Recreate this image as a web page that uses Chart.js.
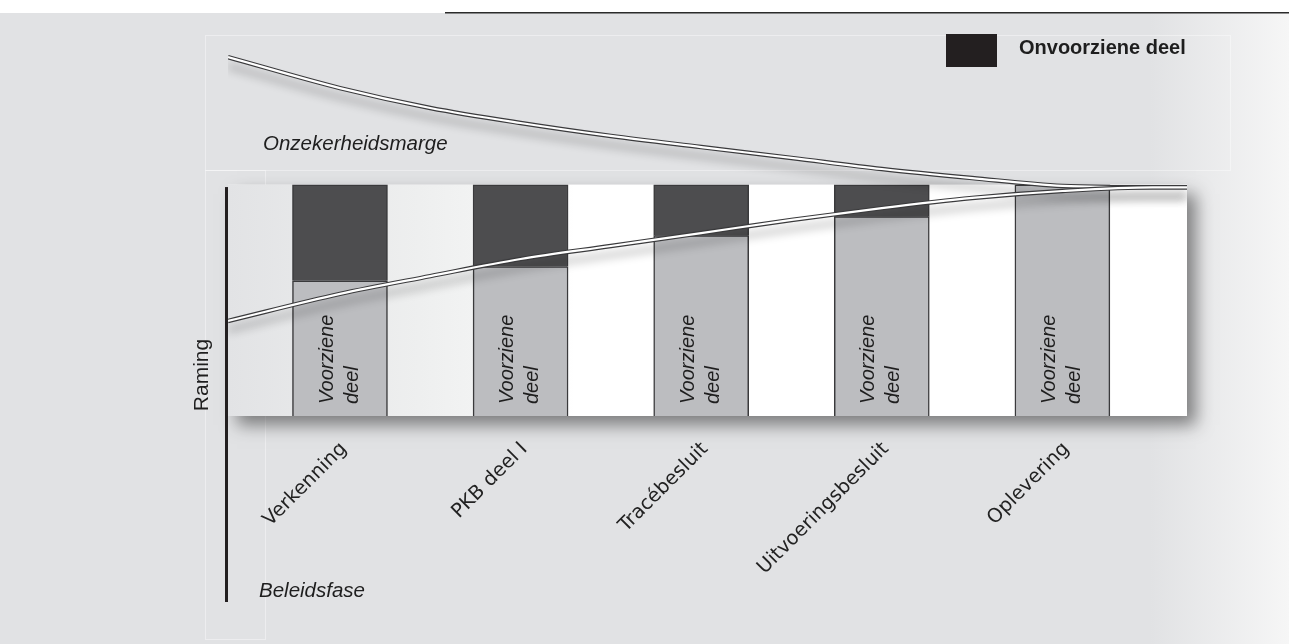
<!DOCTYPE html>
<html>
<head>
<meta charset="utf-8">
<script src="https://cdn.jsdelivr.net/npm/chart.js@4.4.1/dist/chart.umd.min.js"></script>
<style>
  html, body { margin: 0; padding: 0; background: #fff; }
  canvas { display: block; }
</style>
</head>
<body>
<canvas id="chart" width="1289" height="644"></canvas>
<script>
// Raming per beleidsfase: voorziene + onvoorziene deel, met onzekerheidsmarge
const categories = ['Verkenning', 'PKB deel I', 'Tracébesluit', 'Uitvoeringsbesluit', 'Oplevering'];
const voorzien   = [58.5, 64.6, 78.0, 86.2, 100];
const onvoorzien = [41.5, 35.4, 22.0, 13.8, 0];

// onzekerheidsmarge (boven- en ondergrens), x in fase-eenheden
const curveX      = [-0.62, 0, 0.5, 1, 1.5, 2, 2.5, 3, 3.5, 4, 4.5, 4.69];
const upperMargin = [155.2, 141.8, 133.2, 126.7, 121.1, 116.3, 111.6, 106.8, 102.9, 99.5, 98.9, 98.9];
const lowerMargin = [41.1, 52.8, 60.5, 67.9, 73.5, 79.1, 84.8, 89.9, 94.3, 97.3, 98.9, 98.9];

const FONT = "'Liberation Sans', Arial, sans-serif";
const WIDE = "'DejaVu Sans', Verdana, sans-serif";

function pts(ys) { return curveX.map((x, i) => ({ x: x, y: ys[i] })); }

const backdrop = {
  id: 'backdrop',
  beforeDraw(chart) {
    const { ctx, chartArea: a, scales: { x, y } } = chart;
    const W = chart.width, H = chart.height;
    ctx.save();
    // grey panel fading out to the right
    let g = ctx.createLinearGradient(1150, 0, W, 0);
    g.addColorStop(0, '#e1e2e4');
    g.addColorStop(1, '#f6f6f6');
    ctx.fillStyle = g;
    ctx.fillRect(0, 13, W, H - 13);
    ctx.fillStyle = '#2b2b2b';
    ctx.fillRect(445, 12, W - 445, 1.5);
    // faint frames
    ctx.strokeStyle = 'rgba(255,255,255,0.4)';
    ctx.lineWidth = 1;
    ctx.strokeRect(205.5, 35.5, 1025, 135);
    ctx.strokeRect(205.5, 170.5, 60, 469);
    // white band with drop shadow
    const top = y.getPixelForValue(100), bot = y.getPixelForValue(0);
    ctx.shadowColor = 'rgba(0,0,0,0.45)';
    ctx.shadowBlur = 16;
    ctx.shadowOffsetX = 9;
    ctx.shadowOffsetY = 9;
    ctx.fillStyle = '#ffffff';
    ctx.fillRect(a.left, top, a.right - a.left, bot - top);
    ctx.shadowColor = 'transparent';
    g = ctx.createLinearGradient(a.left, 0, x.getPixelForValue(1.3), 0);
    g.addColorStop(0, '#e2e3e5');
    g.addColorStop(0.55, '#eeefef');
    g.addColorStop(0.8, '#f4f5f5');
    g.addColorStop(1, '#ffffff');
    ctx.fillStyle = g;
    ctx.fillRect(a.left, top, a.right - a.left, bot - top);
    ctx.restore();
  },
  beforeDatasetDraw(chart, args) {
    const ds = chart.data.datasets[args.index];
    if (ds.shadow) {
      const ctx = chart.ctx;
      ctx.save();
      ctx.shadowColor = 'rgba(0,0,0,0.28)';
      ctx.shadowBlur = 10;
      ctx.shadowOffsetY = 9;
    }
  },
  afterDatasetDraw(chart, args) {
    if (chart.data.datasets[args.index].shadow) chart.ctx.restore();
  },
  afterDraw(chart) {
    const { ctx, chartArea: a, scales: { x, y } } = chart;
    const y0 = y.getPixelForValue(0);
    ctx.save();
    // vertical axis line
    ctx.fillStyle = '#231f20';
    ctx.fillRect(a.left - 3, y.getPixelForValue(99), 3, 602 - y.getPixelForValue(99));
    ctx.fillStyle = '#1e1e1e';
    ctx.textBaseline = 'middle';
    // axis titles
    ctx.save();
    ctx.translate(202, 375);
    ctx.rotate(-Math.PI / 2);
    ctx.textAlign = 'center';
    ctx.font = '21px ' + FONT;
    ctx.fillText('Raming', 0, 0);
    ctx.restore();
    ctx.textAlign = 'left';
    ctx.font = 'italic 20.5px ' + FONT;
    ctx.fillText('Onzekerheidsmarge', 263, 144);
    ctx.fillText('Beleidsfase', 259, 591);
    // legend
    const ds = chart.data.datasets[1];
    ctx.fillStyle = '#231f20';
    ctx.fillRect(946, 34, 51, 33);
    ctx.fillStyle = '#1e1e1e';
    ctx.font = 'bold 20px ' + FONT;
    ctx.fillText(ds.label, 1019, 48);
    // labels in the bars and phase labels
    const inLabel = chart.data.datasets[0].label.split(' ');
    categories.forEach((c, i) => {
      const cx = x.getPixelForValue(i);
      ctx.save();
      ctx.translate(cx, y0 - 12);
      ctx.rotate(-Math.PI / 2);
      ctx.textAlign = 'left';
      ctx.font = 'italic 20px ' + FONT;
      ctx.fillStyle = '#1e1e1e';
      ctx.fillText(inLabel[0], 0, -13);
      ctx.fillText(inLabel[1], 0, 12);
      ctx.restore();
      ctx.save();
      ctx.translate(cx + 4, y0 + 30);
      ctx.rotate(-Math.PI / 4);
      ctx.textAlign = 'right';
      ctx.font = '19.5px ' + WIDE;
      ctx.fillStyle = '#222';
      ctx.fillText(c, 0, 0);
      ctx.restore();
    });
    ctx.restore();
  }
};

new Chart(document.getElementById('chart').getContext('2d'), {
  type: 'bar',
  data: {
    datasets: [
      { label: 'Voorziene deel', data: voorzien.map((v, i) => ({ x: i, y: v })), stack: 'raming',
        backgroundColor: '#bcbdc0', borderColor: '#3a3a3c', borderWidth: 1.5, order: 10 },
      { label: 'Onvoorziene deel', data: onvoorzien.map((v, i) => ({ x: i, y: v })), stack: 'raming',
        backgroundColor: '#4d4d4f', borderColor: '#3a3a3c', borderWidth: 1.5, order: 10 },
      { type: 'line', label: 'boven', data: pts(upperMargin), yAxisID: 'yLine', shadow: true,
        borderColor: '#3a3a3c', borderWidth: 4.5, pointRadius: 0, cubicInterpolationMode: 'monotone', order: 3 },
      { type: 'line', label: 'boven-w', data: pts(upperMargin), yAxisID: 'yLine',
        borderColor: '#ffffff', borderWidth: 2.2, pointRadius: 0, cubicInterpolationMode: 'monotone', order: 2 },
      { type: 'line', label: 'onder', data: pts(lowerMargin), yAxisID: 'yLine', shadow: true,
        borderColor: '#3a3a3c', borderWidth: 4.5, pointRadius: 0, cubicInterpolationMode: 'monotone', order: 1 },
      { type: 'line', label: 'onder-w', data: pts(lowerMargin), yAxisID: 'yLine',
        borderColor: '#ffffff', borderWidth: 2.2, pointRadius: 0, cubicInterpolationMode: 'monotone', order: 0 }
    ]
  },
  options: {
    responsive: false,
    animation: false,
    layout: { padding: { left: 228, right: 102, top: 46, bottom: 228 } },
    datasets: { bar: { barThickness: 95 } },
    plugins: { legend: { display: false }, tooltip: { enabled: false } },
    scales: {
      x: { type: 'linear', min: -0.62, max: 4.69, offset: false, grid: { offset: false }, display: false },
      y: { stacked: true, min: 0, max: 160, display: false },
      yLine: { min: 0, max: 160, display: false }
    }
  },
  plugins: [backdrop]
});
</script>
</body>
</html>
